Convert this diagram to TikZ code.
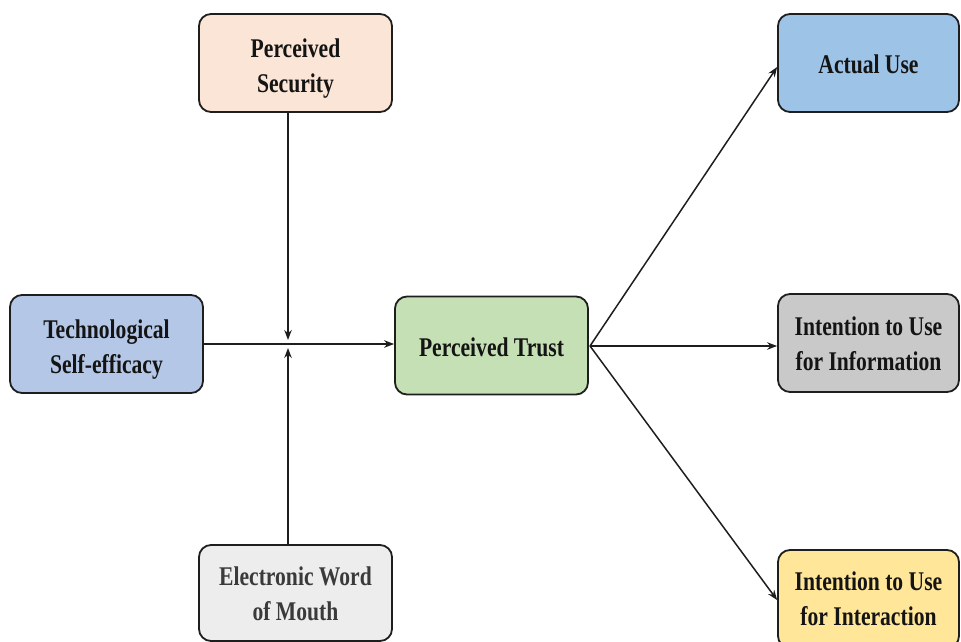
\documentclass[tikz,border=0pt]{standalone}
\usepackage{fontspec}
\setmainfont{Liberation Serif}[FakeStretch=0.8]
\usetikzlibrary{arrows.meta}
\definecolor{psfill}{HTML}{FBE5D6}
\definecolor{tsefill}{HTML}{B4C7E7}
\definecolor{ewomfill}{HTML}{EDEDED}
\definecolor{ptfill}{HTML}{C5E0B4}
\definecolor{aufill}{HTML}{9DC3E6}
\definecolor{infofill}{HTML}{C9C9C9}
\definecolor{intfill}{HTML}{FFE699}
\definecolor{boxline}{HTML}{1E1E1E}
\definecolor{textdark}{HTML}{141414}
\definecolor{textgray}{HTML}{3A3A3A}
\newcommand{\lowtext}[2]{\raisebox{-#1}[\height][\depth]{\begin{tabular}{@{}c@{}}#2\end{tabular}}}
\begin{document}
\begin{tikzpicture}[x=1pt,y=-1pt,
  box/.style={draw=boxline, line width=1.8pt, rounded corners=12pt, align=center,
    font=\fontsize{27}{35}\selectfont\bfseries, text=textdark, inner sep=0pt,
    minimum width=193pt, minimum height=98pt},
  rbox/.style={box, minimum width=181pt},
  arr/.style={line width=1.5pt, draw=boxline, -{Stealth[length=10pt,width=7.5pt]}}]
\useasboundingbox (0,0) rectangle (961,642);
\clip (0,0) rectangle (961,642);
\node[box, fill=psfill] (ps) at (295.5,63) {\lowtext{5pt}{Perceived\\Security}};
\node[box, fill=tsefill] (tse) at (106.5,344) {\lowtext{5pt}{Technological\\Self-efficacy}};
\node[box, fill=ewomfill, text=textgray, minimum height=96pt] (ewom) at (295.5,593) {\lowtext{3pt}{Electronic Word\\of Mouth}};
\node[box, fill=ptfill] (pt) at (491.5,345.5) {\lowtext{4pt}{Perceived Trust}};
\node[rbox, fill=aufill] (au) at (868.5,63) {\lowtext{4pt}{Actual Use}};
\node[rbox, fill=infofill] (info) at (868.5,343) {\lowtext{2.5pt}{Intention to Use\\for Information}};
\node[rbox, fill=intfill] (int) at (868.5,599) {\lowtext{2pt}{Intention to Use\\for Interaction}};
\coordinate (j) at (288,344);
\coordinate (jd) at (288,340);
\coordinate (ju) at (288,348);
\coordinate (pto) at (590,346);
\draw[arr] (tse.east |- j) -- (pt.west |- j);
\draw[arr] (ps.south -| j) -- (jd);
\draw[arr] (ewom.north -| j) -- (ju);
\draw[arr] (pto) -- (au.west |- 0,67);
\draw[arr] (pto) -- (info.west |- pto);
\draw[arr] (pto) -- (int.west |- 0,600);
\end{tikzpicture}
\end{document}
